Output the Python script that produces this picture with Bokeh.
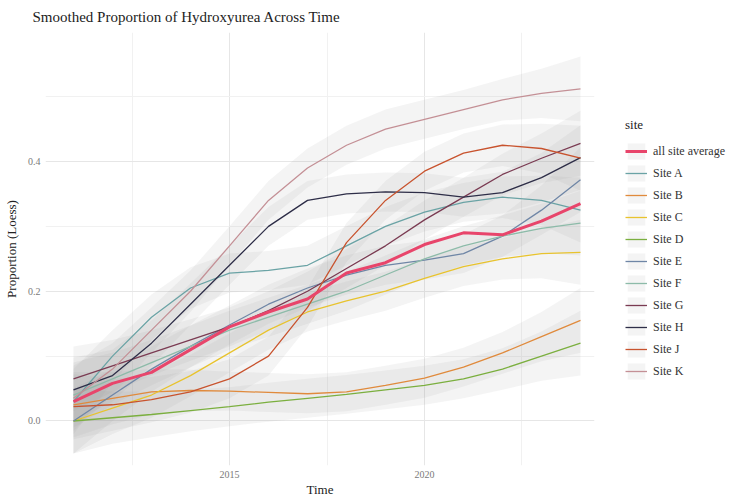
from bokeh.plotting import figure
from bokeh.models import Legend, LegendItem, FixedTicker, CustomJSTickFormatter
from bokeh.embed import file_html
from bokeh.resources import INLINE

years = [2011, 2012, 2013, 2014, 2015, 2016, 2017, 2018, 2019, 2020, 2021, 2022, 2023, 2024]

all_site_average = [0.030, 0.058, 0.075, 0.110, 0.145, 0.168, 0.188, 0.228, 0.244, 0.272, 0.290, 0.287, 0.308, 0.335]
site_a = [0.030, 0.100, 0.160, 0.205, 0.228, 0.232, 0.240, 0.270, 0.300, 0.322, 0.337, 0.345, 0.340, 0.325]
site_b = [0.025, 0.035, 0.045, 0.047, 0.046, 0.044, 0.042, 0.045, 0.055, 0.066, 0.083, 0.105, 0.130, 0.155]
site_c = [0.000, 0.020, 0.040, 0.070, 0.105, 0.140, 0.168, 0.185, 0.200, 0.220, 0.238, 0.250, 0.258, 0.260]
site_d = [0.000, 0.005, 0.010, 0.016, 0.022, 0.029, 0.035, 0.041, 0.048, 0.055, 0.065, 0.080, 0.100, 0.120]
site_e = [0.000, 0.040, 0.080, 0.115, 0.148, 0.180, 0.205, 0.225, 0.240, 0.248, 0.258, 0.285, 0.325, 0.372]
site_f = [0.040, 0.065, 0.090, 0.115, 0.140, 0.160, 0.180, 0.200, 0.225, 0.250, 0.270, 0.285, 0.297, 0.305]
site_g = [0.065, 0.085, 0.105, 0.125, 0.145, 0.170, 0.200, 0.235, 0.270, 0.310, 0.345, 0.380, 0.405, 0.428]
site_h = [0.048, 0.070, 0.120, 0.180, 0.240, 0.300, 0.340, 0.350, 0.353, 0.352, 0.345, 0.352, 0.375, 0.406]
site_j = [0.022, 0.025, 0.033, 0.045, 0.065, 0.100, 0.175, 0.275, 0.340, 0.385, 0.413, 0.425, 0.420, 0.405]
site_k = [0.035, 0.080, 0.140, 0.200, 0.270, 0.340, 0.390, 0.425, 0.450, 0.465, 0.480, 0.495, 0.505, 0.512]

band_halfwidth = [0.050, 0.040, 0.035, 0.032, 0.030, 0.030, 0.030, 0.030, 0.030, 0.030, 0.030, 0.032, 0.038, 0.050]

site_names = ["Site A", "Site B", "Site C", "Site D", "Site E", "Site F", "Site G", "Site H", "Site J", "Site K"]
site_values = [site_a, site_b, site_c, site_d, site_e, site_f, site_g, site_h, site_j, site_k]
site_colors = ["#6AA3A5", "#E08A3C", "#E8C32E", "#7BAF3F", "#6F86A6", "#8DBBA9",
               "#7A3B52", "#2E2E48", "#C8532E", "#C49096"]
avg_color = "#E8456B"

x_ticks = [2015, 2020]
x_minor = [2012.5, 2017.5, 2022.5]
y_ticks = [0.0, 0.2, 0.4]
y_minor = [-0.1, 0.1, 0.3, 0.5]

SERIF = "Liberation Serif"

p = figure(frame_width=549, frame_height=433, output_backend="svg", toolbar_location=None,
           x_range=(2010.282, 2024.359), y_range=(-0.0686, 0.5988),
           min_border_left=40, min_border_right=127, min_border_top=32, min_border_bottom=28)

p.outline_line_color = None
p.background_fill_color = "white"

p.title.text = "Smoothed Proportion of Hydroxyurea Across Time"
p.title.text_font = SERIF
p.title.text_font_size = "15px"
p.title.text_font_style = "normal"
p.title.text_color = "#222222"
p.title.offset = -13
p.title.standoff = 12
p.title.vertical_align = "top"

p.xaxis.ticker = FixedTicker(ticks=x_ticks, minor_ticks=x_minor)
p.yaxis.ticker = FixedTicker(ticks=y_ticks, minor_ticks=y_minor)
p.yaxis.formatter = CustomJSTickFormatter(code="return tick.toFixed(1);")

for ax in (p.xaxis, p.yaxis):
    ax.axis_line_color = None
    ax.major_tick_line_color = None
    ax.minor_tick_line_color = None
    ax.major_tick_out = 0
    ax.major_tick_in = 0
    ax.minor_tick_out = 0
    ax.minor_tick_in = 0
    ax.major_label_text_font = SERIF
    ax.major_label_text_font_size = "10px"
    ax.major_label_text_color = "#7a7a7a"
    ax.axis_label_text_font = SERIF
    ax.axis_label_text_font_size = "13px"
    ax.axis_label_text_font_style = "normal"
    ax.axis_label_text_color = "#222222"

p.xaxis.axis_label = "Time"
p.yaxis.axis_label = "Proportion (Loess)"
p.xaxis.major_label_standoff = 5
p.xaxis.axis_label_standoff = 1
p.yaxis.major_label_standoff = 5
p.yaxis.axis_label_standoff = 6

for g in (p.xgrid, p.ygrid):
    g.grid_line_color = "#E6E6E6"
    g.grid_line_width = 1
    g.minor_grid_line_color = "#F1F1F1"
    g.minor_grid_line_width = 1

band_fill = "#9a9a9a"
band_alpha = 0.11

avg_band = p.varea(x=years, y1=all_site_average, y2=all_site_average,
                   fill_color=band_fill, fill_alpha=band_alpha)

bands = []
for vals in site_values:
    lower = [v - h for v, h in zip(vals, band_halfwidth)]
    upper = [v + h for v, h in zip(vals, band_halfwidth)]
    bands.append(p.varea(x=years, y1=lower, y2=upper, fill_color=band_fill, fill_alpha=band_alpha))

lines = []
for vals, col in zip(site_values, site_colors):
    lines.append(p.line(x=years, y=vals, line_color=col, line_width=1.3))

avg_line = p.line(x=years, y=all_site_average, line_color=avg_color, line_width=3)

items = [LegendItem(label="all site average", renderers=[avg_band, avg_line])]
for name, b, l in zip(site_names, bands, lines):
    items.append(LegendItem(label=name, renderers=[b, l]))

legend = Legend(items=items, location=(31, 84))
legend.title = "site"
legend.title_text_font = SERIF
legend.title_text_font_size = "13px"
legend.title_text_font_style = "normal"
legend.title_text_color = "#222222"
legend.title_standoff = 8
legend.label_text_font = SERIF
legend.label_text_font_size = "12px"
legend.label_text_color = "#333333"
legend.glyph_width = 22
legend.glyph_height = 20
legend.label_height = 20
legend.label_standoff = 6
legend.spacing = 2
legend.padding = 5
legend.margin = 0
legend.border_line_color = None
legend.background_fill_alpha = 0
p.add_layout(legend, "right")

open("out.html", "w").write(file_html(p, INLINE))
